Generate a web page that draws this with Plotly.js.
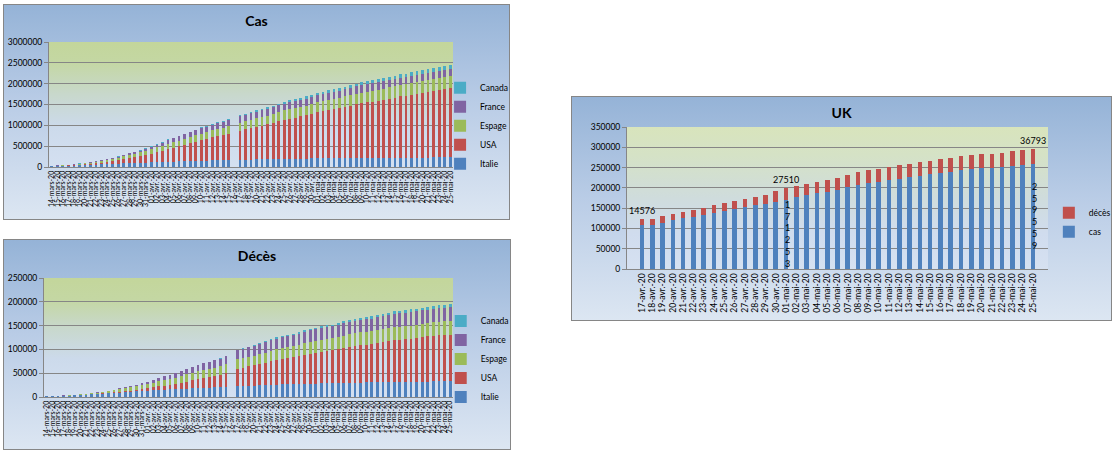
<!DOCTYPE html>
<html>
<head>
<meta charset="utf-8">
<script src="https://cdn.plot.ly/plotly-3.0.1.min.js"></script>
<style>
  body { margin: 0; background: #ffffff; }
  .box {
    position: absolute;
    box-sizing: border-box;
    border: 1px solid #868686;
    background: linear-gradient(to bottom, #95b3d7 0%, #b9cce6 45%, #dce6f2 100%);
  }
  .area { position: absolute; }
  .box .plot { position: absolute; left: -1px; top: -1px; }
</style>
</head>
<body>
<div class="box" id="boxCas" style="left:3px;top:4px;width:507px;height:216px;">
  <div class="area" style="left:45px;top:37px;width:404px;height:125px;background:linear-gradient(to bottom,#c3d69b 0%,#c4d7a3 16%,#c8d8cc 42%,#ccdaeb 68%,#d4e0f1 100%);"></div>
  <div class="plot" id="cas"></div>
</div>
<div class="box" id="boxDeces" style="left:3px;top:239px;width:508px;height:211px;">
  <div class="area" style="left:40px;top:38px;width:409px;height:119px;background:linear-gradient(to bottom,#c3d69b 0%,#c4d7a3 18%,#c8d8cc 42%,#ccdaeb 68%,#d4e0f1 100%);"></div>
  <div class="plot" id="deces"></div>
</div>
<div class="box" id="boxUK" style="left:571px;top:96px;width:541px;height:225px;">
  <div class="area" style="left:55px;top:30px;width:421px;height:142px;background:linear-gradient(to bottom,#d8e4bc 0%,#d5e2c6 20%,#cfdcdc 50%,#d0dcee 75%,#d6e1f1 100%);"></div>
  <div class="plot" id="uk"></div>
</div>
<script>
// dates, 14 mars -> 25 mai 2020 (16 avril missing in the source sheet)
var jours = [
  '14-mars-20','15-mars-20','16-mars-20','17-mars-20','18-mars-20','19-mars-20','20-mars-20','21-mars-20','22-mars-20',
  '23-mars-20','24-mars-20','25-mars-20','26-mars-20','27-mars-20','28-mars-20','29-mars-20','30-mars-20','31-mars-20',
  '01-avr.-20','02-avr.-20','03-avr.-20','04-avr.-20','05-avr.-20','06-avr.-20','07-avr.-20','08-avr.-20','09-avr.-20','10-avr.-20',
  '11-avr.-20','12-avr.-20','13-avr.-20','14-avr.-20','15-avr.-20','16-avr.-20','17-avr.-20','18-avr.-20','19-avr.-20','20-avr.-20',
  '21-avr.-20','22-avr.-20','23-avr.-20','24-avr.-20','25-avr.-20','26-avr.-20','27-avr.-20','28-avr.-20','29-avr.-20','30-avr.-20',
  '01-mai-20','02-mai-20','03-mai-20','04-mai-20','05-mai-20','06-mai-20','07-mai-20','08-mai-20','09-mai-20','10-mai-20',
  '11-mai-20','12-mai-20','13-mai-20','14-mai-20','15-mai-20','16-mai-20','17-mai-20','18-mai-20','19-mai-20','20-mai-20',
  '21-mai-20','22-mai-20','23-mai-20','24-mai-20','25-mai-20'
];

// cas cumulés
var casItalie = [21157,24747,27980,31506,35713,41035,47021,53578,59138,63927,69176,74386,80589,86498,92472,97689,101739,105792,
  110574,115242,119827,124632,128948,132547,135586,139422,143626,147577,152271,156363,159516,162488,165155,null,172434,175925,178972,181228,
  183957,187327,189973,192994,195351,197675,199414,201505,203591,205463,
  207428,209328,210717,211938,213013,214457,215858,217185,218268,219070,219814,221216,222104,223096,223885,224760,225435,225886,226699,227364,
  228006,228658,229327,229858,230158];
var casUSA = [2727,3499,4632,6421,7786,13680,19101,25493,33746,43667,53740,65778,83836,101657,121465,140909,161831,188172,
  213242,243622,275367,308650,336802,366317,397121,428654,462780,496535,526396,555313,580619,607670,636350,null,699706,732197,758809,784326,
  811865,840351,869170,905358,938154,965785,988197,1012582,1039909,1069424,
  1103461,1132539,1158040,1180375,1204351,1229331,1257023,1283929,1309550,1329260,1347881,1369376,1390406,1417774,1442824,1467820,1486757,1508308,
  1528568,1551853,1577147,1600937,1622612,1643246,1662302];
var casEspage = [6391,7798,9942,11748,13910,17963,20410,25374,28768,35136,39885,49515,57786,65719,73235,80110,87956,95923,
  104118,112065,119199,126168,131646,136675,141942,148220,153222,158273,163027,166831,170099,172541,177644,null,190839,191726,198674,200210,
  204178,208389,213024,219764,223759,226629,229422,229422,232128,236899,
  239639,242988,245567,247122,248301,250561,253682,256855,260117,261650,262783,264663,268143,269520,271095,272646,274367,276505,277719,278803,
  279524,280117,281904,282370,282852];
var casFrance = [4499,5423,6633,7652,9043,10871,12612,14459,16018,19856,22304,25233,29155,32964,37575,40174,44550,52128,
  56989,59105,64338,89953,92839,98010,109069,112950,117749,124869,129654,132591,137875,143303,147091,null,149149,149149,152894,155393,
  156495,158168,155980,158303,159952,161644,162220,165093,165764,166420,
  167178,167886,168518,168925,169583,170551,174224,174918,176202,176782,177094,177547,178349,178184,179306,179645,179927,180051,180933,181700,
  181951,182036,182219,182469,182722];
var casCanada = [198,252,415,478,657,800,943,1277,1469,2088,2790,3251,4042,4682,5576,6280,7398,8527,
  9560,11284,12437,12978,15756,16563,17872,19141,20654,22059,23316,24298,25680,27035,28379,null,32814,34356,35633,37658,
  39402,41663,43286,44919,46371,48033,49616,50996,52865,54457,
  56343,57927,59474,60772,62046,63496,64922,66434,67702,68918,70091,71264,72419,73568,74781,75959,77002,78072,79101,80142,
  81324,82480,83621,84699,85711];

// décès cumulés
var decItalie = [1441,1809,2158,2503,2978,3405,4032,4825,5476,6077,6820,7503,8165,9134,10023,10779,11591,12428,
  13155,13915,14681,15362,15887,16523,17127,17669,18279,18849,19468,19899,20465,21067,21645,null,22745,23227,23660,24114,
  24648,25085,25549,25969,26384,26644,26977,27359,27682,27967,
  28236,28710,28884,29079,29315,29684,29958,30201,30395,30560,30739,30911,31106,31368,31610,31763,31908,32007,32169,32330,
  32486,32616,32735,32785,32877];
var decUSA = [57,69,87,110,150,206,255,301,419,555,784,1063,1330,1698,2221,2623,3170,4080,
  5108,6141,7426,8454,9642,10943,12907,14831,16696,18747,20608,22108,23640,25832,28326,null,36773,38664,40661,42094,
  44845,46622,49954,51949,53755,54881,56219,58355,60967,62996,
  64943,66369,67682,68922,71064,73455,75662,77180,78795,79526,80682,82376,84119,85898,87530,88754,89562,90347,91921,93439,
  94702,95979,97087,97720,98220];
var decEspage = [195,289,342,533,623,830,1043,1375,1772,2311,2808,3647,4365,5138,5982,6803,7716,8464,
  9387,10348,11198,11947,12641,13341,14045,14792,15447,16081,16606,17209,17756,18056,18708,null,20002,20043,20453,20852,
  21282,21717,22157,22524,22902,23190,23521,23822,24275,24543,
  24824,25100,25264,25428,25613,25857,26070,26299,26478,26621,26744,26920,27104,27321,27459,27563,27650,27709,27778,27888,
  27940,28628,28678,28752,28752];
var decFrance = [91,127,148,175,264,372,450,562,674,860,1100,1331,1696,1995,2314,2606,3024,3523,
  4032,5387,6507,7560,8078,8911,10328,10869,12210,13197,13832,14393,14967,15729,17167,null,18681,19323,19718,20265,
  20796,21340,21856,22245,22614,22856,23293,23660,24087,24376,
  24594,24760,24895,25201,25531,25809,25987,26230,26310,26380,26643,26991,27074,27425,27529,27625,28108,28239,28022,28132,
  28215,28289,28332,28367,28432];
var decCanada = [1,1,4,8,12,12,12,13,20,24,27,36,39,54,61,63,80,101,
  109,139,179,218,259,339,375,407,503,557,654,714,779,899,1010,null,1310,1399,1563,1661,
  1834,1974,2147,2350,2465,2560,2707,2859,2996,3104,
  3310,3391,3566,3682,3854,4043,4232,4569,4693,4871,4991,5169,5300,5425,5562,5679,5782,5842,5960,6031,
  6146,6250,6355,6424,6545];

// UK
var joursUK = [
  '17-avr.-20','18-avr.-20','19-avr.-20','20-avr.-20','21-avr.-20','22-avr.-20','23-avr.-20','24-avr.-20','25-avr.-20',
  '26-avr.-20','27-avr.-20','28-avr.-20','29-avr.-20','30-avr.-20',
  '01-mai-20','02-mai-20','03-mai-20','04-mai-20','05-mai-20','06-mai-20','07-mai-20','08-mai-20','09-mai-20','10-mai-20',
  '11-mai-20','12-mai-20','13-mai-20','14-mai-20','15-mai-20','16-mai-20','17-mai-20','18-mai-20','19-mai-20','20-mai-20',
  '21-mai-20','22-mai-20','23-mai-20','24-mai-20','25-mai-20'
];
var ukCas = [108692,108692,114217,120067,124743,129044,133495,138078,143464,148377,152840,157149,161145,165221,
  171253,177454,182260,186599,190584,194990,201101,206715,211364,215260,219183,223060,226463,229705,233151,236711,
  240161,243695,246406,248818,248293,250908,254195,257154,259559];
var ukDeces = [14576,14576,15464,16060,16509,17337,18100,18738,19506,20319,20732,21092,21678,26771,
  27510,28131,28446,28734,29427,30076,30615,31241,31587,31855,32065,32692,33186,33614,33998,34466,
  34636,34636,34796,35341,35704,36042,36393,36675,36793];
var ukLabelDeces = [0, 14, 38];
var ukLabelCas = [14, 38];

var couleurs = {Italie: '#4f81bd', USA: '#c0504d', Espage: '#9bbb59', France: '#8064a2', Canada: '#4bacc6'};
var police = 'Lato, "Open Sans", sans-serif';

function barre(nom, x, y, couleur) {
    return {type: 'bar', name: nom, x: x, y: y, marker: {color: couleur}, hoverinfo: 'skip'};
}

function miseEnPage(titre, w, h, m, yMax, yStep, xFont, legX, legY) {
    m.autoexpand = false;
    return {
        width: w, height: h,
        margin: m,
        barmode: 'stack',
        bargap: 0.5,
        paper_bgcolor: 'rgba(0,0,0,0)',
        plot_bgcolor: 'rgba(0,0,0,0)',
        font: {family: police, size: 8, color: '#000'},
        title: {text: titre, font: {family: police, size: 14, weight: 'bold', color: '#000'},
                x: 0.5, xref: 'container', y: 1 - 17 / h, yref: 'container', yanchor: 'middle'},
        xaxis: {type: 'category', tickangle: -90, dtick: 1, tickfont: {size: xFont},
                showline: true, linecolor: '#868686', ticks: '', showgrid: false},
        yaxis: {range: [0, yMax], dtick: yStep, tickformat: 'd', showgrid: true, gridcolor: '#868686',
                gridwidth: 1, zeroline: false, showline: true, linecolor: '#868686',
                ticks: 'outside', ticklen: 4, tickcolor: '#868686', tickfont: {size: 8.5}},
        legend: {x: legX, xanchor: 'left', y: legY, yanchor: 'middle', traceorder: 'reversed',
                 font: {size: 8.5}, bgcolor: 'rgba(0,0,0,0)'},
        showlegend: true
    };
}

var config = {displayModeBar: false, staticPlot: true};

Plotly.newPlot('cas', [
    barre('Italie', jours, casItalie, couleurs.Italie),
    barre('USA', jours, casUSA, couleurs.USA),
    barre('Espage', jours, casEspage, couleurs.Espage),
    barre('France', jours, casFrance, couleurs.France),
    barre('Canada', jours, casCanada, couleurs.Canada)
], miseEnPage('Cas', 507, 216, {l: 46, r: 57, t: 38, b: 53}, 3000000, 500000, 7, 0.968, 0.33), config);

Plotly.newPlot('deces', [
    barre('Italie', jours, decItalie, couleurs.Italie),
    barre('USA', jours, decUSA, couleurs.USA),
    barre('Espage', jours, decEspage, couleurs.Espage),
    barre('France', jours, decFrance, couleurs.France),
    barre('Canada', jours, decCanada, couleurs.Canada)
], miseEnPage('Décès', 508, 211, {l: 41, r: 58, t: 39, b: 53}, 250000, 50000, 7, 0.97, 0.32), config);

var layoutUK = miseEnPage('UK', 541, 225, {l: 56, r: 64, t: 31, b: 52}, 350000, 50000, 8.5, 1.002, 0.33);
layoutUK.bargap = 0.55;
layoutUK.annotations = [];
ukLabelDeces.forEach(function (i) {
    layoutUK.annotations.push({x: joursUK[i], y: ukCas[i] + ukDeces[i], text: String(ukDeces[i]),
        showarrow: false, yanchor: 'bottom', yshift: 1, font: {size: 9, color: '#000'}});
});
ukLabelCas.forEach(function (i) {
    layoutUK.annotations.push({x: joursUK[i], y: ukCas[i] / 2, text: String(ukCas[i]).split('').join('<br>'),
        showarrow: false, yanchor: 'middle', xshift: 1, font: {size: 9, color: '#000'}});
});

Plotly.newPlot('uk', [
    barre('cas', joursUK, ukCas, '#4f81bd'),
    barre('décès', joursUK, ukDeces, '#c0504d')
], layoutUK, config);
</script>
</body>
</html>
